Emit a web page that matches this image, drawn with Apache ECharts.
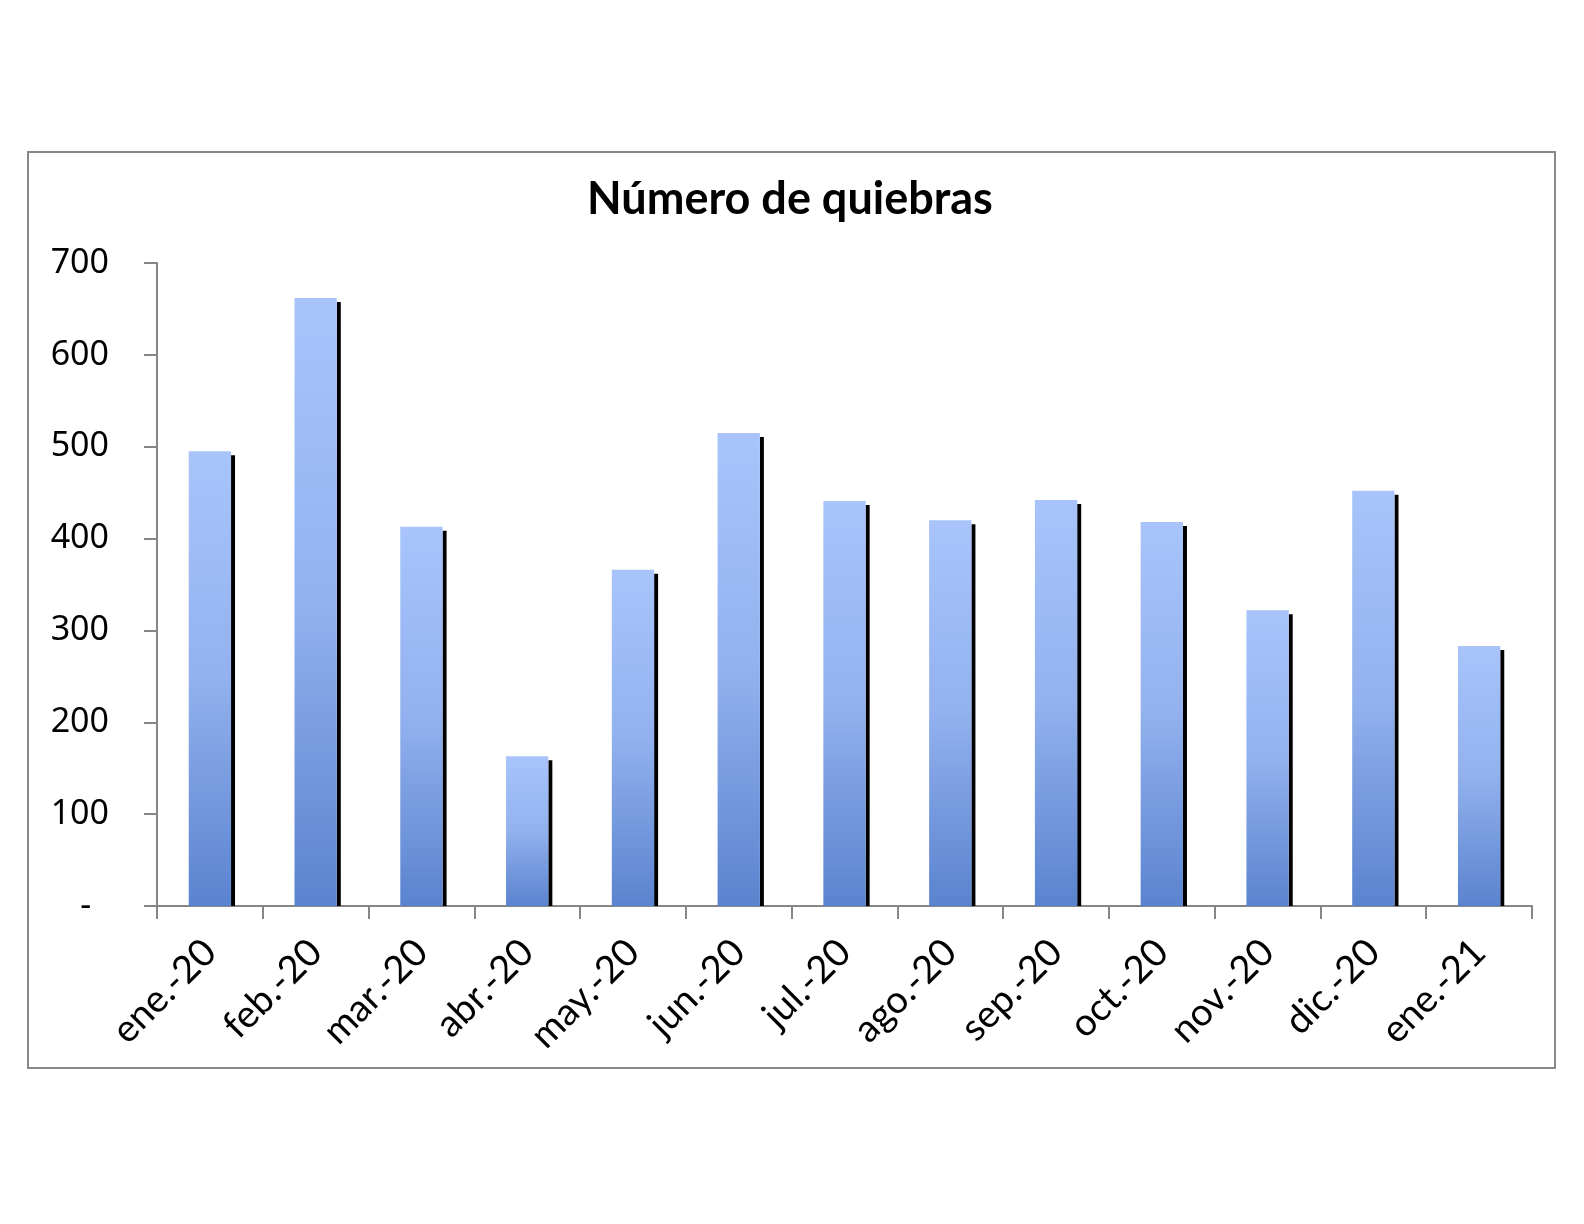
<!DOCTYPE html>
<html>
<head>
<meta charset="utf-8">
<script src="https://cdn.jsdelivr.net/npm/echarts@6/dist/echarts.min.js"></script>
<style>
html,body{margin:0;padding:0;background:#fff;}
#chart{width:1584px;height:1224px;}
</style>
</head>
<body>
<div id="chart"></div>
<script>
const title = 'Número de quiebras';
const categories = ['ene.-20','feb.-20','mar.-20','abr.-20','may.-20','jun.-20','jul.-20','ago.-20','sep.-20','oct.-20','nov.-20','dic.-20','ene.-21'];
const values = [495, 662, 413, 163, 366, 515, 441, 420, 442, 418, 322, 452, 283];
const yTicks = [0, 100, 200, 300, 400, 500, 600, 700];

const chart = echarts.init(document.getElementById('chart'), null, {renderer:'canvas'});
const axisGray = '#868686';

chart.setOption({
  backgroundColor: '#ffffff',
  animation: false,
  title: {
    text: title,
    left: 785, top: 172, textAlign: 'center',
    textStyle: {fontFamily: 'Lato', fontWeight: 'bold', fontSize: 45, color: '#000'}
  },
  graphic: [{
    type: 'rect', silent: true,
    shape: {x: 28, y: 152, width: 1527, height: 916},
    style: {fill: 'none', stroke: '#888888', lineWidth: 2}
  }],
  grid: {left: 157, right: 52, top: 263, bottom: 318, containLabel: false},
  xAxis: {
    type: 'category',
    data: categories,
    boundaryGap: true,
    axisLine: {lineStyle: {color: axisGray, width: 2}},
    axisTick: {show: true, alignWithLabel: false, length: 13, lineStyle: {color: axisGray, width: 2}},
    axisLabel: {rotate: 45, margin: 40, fontFamily: 'Lato', fontSize: 38, color: '#000', interval: 0}
  },
  yAxis: {
    type: 'value',
    min: yTicks[0], max: yTicks[yTicks.length - 1], interval: 100,
    axisLine: {show: true, lineStyle: {color: axisGray, width: 2}},
    axisTick: {show: true, length: 13, lineStyle: {color: axisGray, width: 2}},
    splitLine: {show: false},
    axisLabel: {
      margin: 48, fontFamily: 'Noto Sans', fontSize: 34, color: '#000',
      formatter: v => v === 0 ? '-  ' : String(v)
    }
  },
  series: [{
    type: 'custom',
    data: categories.map((c, i) => [i, values[i]]),
    encode: {x: 0, y: 1},
    renderItem: function (params, api) {
      const top = api.coord([api.value(0), api.value(1)]);
      const base = api.coord([api.value(0), 0]);
      const bw = api.size([1, 0])[0] * 0.40;
      const x0 = top[0] - bw / 2;
      return {
        type: 'group',
        children: [{
          type: 'rect',
          shape: {x: x0 + bw, y: top[1] + 4, width: 4, height: base[1] - top[1] - 4},
          style: {fill: '#000'}
        }, {
          type: 'rect',
          shape: {x: x0, y: top[1], width: bw, height: base[1] - top[1]},
          style: {
            fill: new echarts.graphic.LinearGradient(0, 0, 0, 1, [
              {offset: 0, color: '#a8c4fb'},
              {offset: 0.5, color: '#92b1ee'},
              {offset: 1, color: '#5a83cf'}
            ])
          }
        }]
      };
    }
  }]
});
</script>
</body>
</html>
